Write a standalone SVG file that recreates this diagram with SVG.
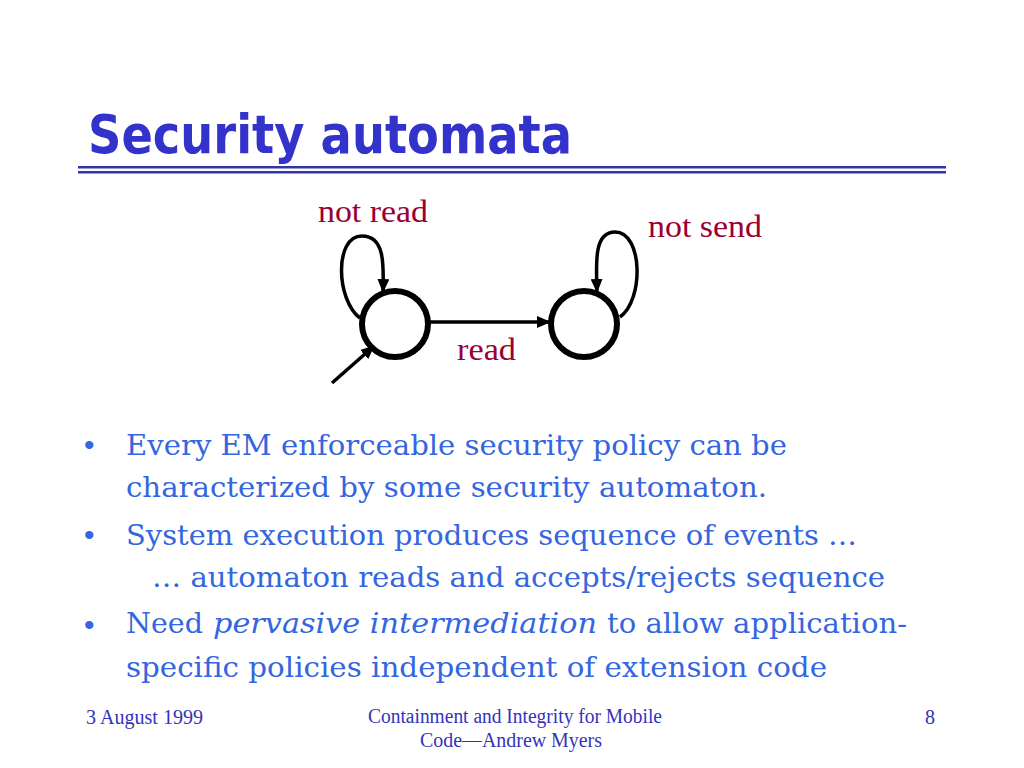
<svg xmlns="http://www.w3.org/2000/svg" width="1024" height="768" viewBox="0 0 1024 768">
<defs>
<style>
.title{font-family:"DejaVu Sans Condensed","DejaVu Sans",sans-serif;font-weight:bold;font-size:54px;fill:#3333cc}
.lbl{font-family:"Liberation Serif",serif;font-size:32px;fill:#990033}
.body{font-family:"DejaVu Serif","Liberation Serif",serif;font-size:28px;fill:#3366e0}
.it{font-style:italic}
.bul{font-family:"Liberation Sans",sans-serif;font-size:30px;fill:#3366e0}
.foot{font-family:"Liberation Serif",serif;font-size:20px;fill:#3333bb}
.state{fill:none;stroke:#000;stroke-width:6}
.edge{fill:none;stroke:#000;stroke-width:3.5}
</style>
<marker id="ah" markerUnits="userSpaceOnUse" markerWidth="14" markerHeight="12" refX="13" refY="6" orient="auto">
<path d="M0,0 L14,6 L0,12 z" fill="#000"/>
</marker>
</defs>
<rect width="1024" height="768" fill="#fff"/>
<text class="title" x="88" y="153" textLength="484" lengthAdjust="spacingAndGlyphs">Security automata</text>
<rect x="78" y="166" width="868" height="2.5" fill="#3333aa"/>
<rect x="78" y="171" width="868" height="2.5" fill="#3333aa"/>

<g id="connectors">
<path class="edge" d="M360 318 C336 300 334 236 362 236 C384 236 384 262 383 292" marker-end="url(#ah)"/>
<path class="edge" d="M620 317 C644 300 643 232 615 232 C594 232 596 262 597 292" marker-end="url(#ah)"/>
<path class="edge" d="M430 322 L550 322" marker-end="url(#ah)"/>
<path class="edge" d="M332 383 L374 346" marker-end="url(#ah)"/>
</g>
<g id="s0"><circle class="state" cx="395" cy="324" r="33"/></g>
<g id="s1"><circle class="state" cx="584" cy="324" r="33"/></g>
<g id="labels">
<text class="lbl" x="318" y="222" textLength="110" lengthAdjust="spacingAndGlyphs">not read</text>
<text class="lbl" x="648" y="237" textLength="114" lengthAdjust="spacingAndGlyphs">not send</text>
<text class="lbl" x="457" y="360" textLength="59" lengthAdjust="spacingAndGlyphs">read</text>
</g>

<g id="bullets">
<text class="bul" x="84" y="455">•</text>
<text class="bul" x="84" y="545">•</text>
<text class="bul" x="84" y="635">•</text>
<text class="body" x="126" y="455" textLength="661" lengthAdjust="spacingAndGlyphs">Every EM enforceable security policy can be</text>
<text class="body" x="126" y="497" textLength="641" lengthAdjust="spacingAndGlyphs">characterized by some security automaton.</text>
<text class="body" x="126" y="545" textLength="731" lengthAdjust="spacingAndGlyphs">System execution produces sequence of events …</text>
<text class="body" x="152" y="587" textLength="733" lengthAdjust="spacingAndGlyphs">… automaton reads and accepts/rejects sequence</text>
<text class="body" x="126" y="633" textLength="77" lengthAdjust="spacingAndGlyphs">Need</text>
<text class="body it" x="213" y="633" textLength="384" lengthAdjust="spacingAndGlyphs">pervasive intermediation</text>
<text class="body" x="607" y="633" textLength="300" lengthAdjust="spacingAndGlyphs">to allow application-</text>
<text class="body" x="126" y="677" textLength="701" lengthAdjust="spacingAndGlyphs">specific policies independent of extension code</text>
</g>

<g id="footer">
<text class="foot" x="86" y="724" textLength="117" lengthAdjust="spacingAndGlyphs">3 August 1999</text>
<text class="foot" x="368" y="723" textLength="294" lengthAdjust="spacingAndGlyphs">Containment and Integrity for Mobile</text>
<text class="foot" x="420" y="747" textLength="182" lengthAdjust="spacingAndGlyphs">Code—Andrew Myers</text>
<text class="foot" x="935" y="724" text-anchor="end">8</text>
</g>
</svg>
